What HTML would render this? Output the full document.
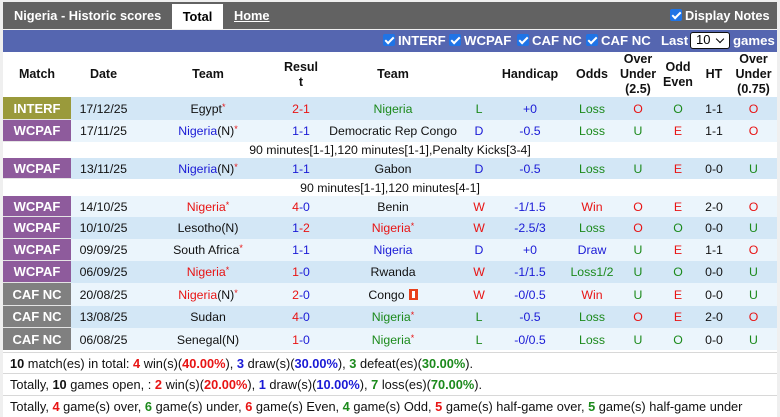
<!DOCTYPE html>
<html><head><meta charset="utf-8">
<style>
*{box-sizing:border-box;margin:0;padding:0}
body{width:780px;height:417px;background:#efefef;font-family:"Liberation Sans",Arial,sans-serif;position:relative;overflow:hidden}
.top{position:absolute;left:3px;top:2px;width:774px;height:27px;background:#626262;color:#fff;font-weight:bold;font-size:12.8px}
.top .t{position:absolute;left:11px;top:6px}
.tab{position:absolute;left:169px;top:2px;width:51px;height:25px;background:#fff;color:#000;text-align:center;line-height:25px}
.home{position:absolute;left:231px;top:6px;text-decoration:underline}
.dn{position:absolute;left:667px;top:6px}
.cb{display:inline-block;width:12px;height:12px;background:#1f74e6;border-radius:2px;position:relative;vertical-align:-1px;margin-right:3px}
.cb:after{content:"";position:absolute;left:4px;top:1px;width:3px;height:7px;border:solid #fff;border-width:0 2px 2px 0;transform:rotate(45deg)}
.blue{position:absolute;left:3px;top:30px;width:774px;height:22px;background:#5566b0;color:#fff;font-weight:bold;font-size:13.2px}
.blue span.i{position:absolute;top:3px}
.sel{position:absolute;left:687px;top:2px;width:40px;height:17px;background:#fff;border:1.5px solid #111;border-radius:3px;color:#000;font-weight:normal;font-size:13px;line-height:14px;padding-left:5px}
.sel:after{content:"";position:absolute;right:6px;top:3px;width:5px;height:5px;border:solid #000;border-width:0 1.5px 1.5px 0;transform:rotate(45deg)}
table{position:absolute;left:3px;top:52px;width:774px;border-collapse:collapse;table-layout:fixed;font-size:12.3px}
td,th{text-align:center;vertical-align:middle;white-space:nowrap;overflow:hidden;padding:0;line-height:14px}
th{background:#fff;font-weight:bold;line-height:15px;height:44px;color:#111;font-size:12.5px}
tr.d td{background:#d3e7f6}
tr.l td{background:#ebf5fc}
tr.n td{background:#fff;color:#111}
td.m{color:#fff;font-weight:bold;font-size:13px;box-shadow:inset 0 -1px 0 #e4e4e4}
.mi{background:#9a9a3b!important}
.mw{background:#8e5b9c!important}
.mc{background:#808080!important}
.R{color:#e81414}.G{color:#1c8a1c}.B{color:#1a1ad6}.K{color:#111}
sup{font-size:9px;line-height:0;vertical-align:3px;color:#e81414}
.ic{display:inline-block;width:9px;height:11px;background:#e8401c;vertical-align:-1px;margin-left:4px;position:relative}
.ic:after{content:"";position:absolute;left:3px;top:2px;width:3px;height:7px;background:#fff}
.sumbg{position:absolute;left:3px;top:350px;width:774px;height:67px;background:#fff}
.sum{position:absolute;left:3px;width:774px;height:22px;background:#fff;border-top:1px solid #d8d8d8;font-size:12.8px;line-height:21px;padding-left:7px;color:#111}
b{font-weight:bold}
</style></head><body>
<div class="top"><span class="t">Nigeria - Historic scores</span><span class="tab">Total</span><span class="home">Home</span><span class="dn"><span class="cb"></span>Display Notes</span></div>
<div class="blue">
<span class="i" style="left:380px"><span class="cb"></span>INTERF</span>
<span class="i" style="left:446px"><span class="cb"></span>WCPAF</span>
<span class="i" style="left:514px"><span class="cb"></span>CAF NC</span>
<span class="i" style="left:583px"><span class="cb"></span>CAF NC</span>
<span class="i" style="left:658px">Last</span>
<span class="sel">10</span>
<span class="i" style="left:730px">games</span>
</div>
<table>
<colgroup><col style="width:68px"><col style="width:65px"><col style="width:144px"><col style="width:42px"><col style="width:142px"><col style="width:30px"><col style="width:72px"><col style="width:52px"><col style="width:40px"><col style="width:40px"><col style="width:32px"><col style="width:47px"></colgroup>
<tr style="height:44px"><th>Match</th><th>Date</th><th>Team</th><th>Resul<br>t</th><th>Team</th><th></th><th>Handicap</th><th>Odds</th><th>Over<br>Under<br>(2.5)</th><th>Odd<br>Even</th><th>HT</th><th>Over<br>Under<br>(0.75)</th></tr>
<tr class="d" style="height:23px"><td class="m mi">INTERF</td><td class="K">17/12/25</td><td class="K">Egypt<sup>*</sup></td><td class="R">2-1</td><td class="G">Nigeria</td><td class="G">L</td><td class="B">+0</td><td class="G">Loss</td><td class="R">O</td><td class="G">O</td><td class="K">1-1</td><td class="R">O</td></tr>
<tr class="l" style="height:22px"><td class="m mw">WCPAF</td><td class="K">17/11/25</td><td><span class="B">Nigeria</span><span class="K">(N)</span><sup>*</sup></td><td class="B">1-1</td><td class="K">Democratic Rep Congo</td><td class="B">D</td><td class="B">-0.5</td><td class="G">Loss</td><td class="G">U</td><td class="R">E</td><td class="K">1-1</td><td class="R">O</td></tr>
<tr class="n" style="height:16px"><td colspan="12">90 minutes[1-1],120 minutes[1-1],Penalty Kicks[3-4]</td></tr>
<tr class="d" style="height:21px"><td class="m mw">WCPAF</td><td class="K">13/11/25</td><td><span class="B">Nigeria</span><span class="K">(N)</span><sup>*</sup></td><td class="B">1-1</td><td class="K">Gabon</td><td class="B">D</td><td class="B">-0.5</td><td class="G">Loss</td><td class="G">U</td><td class="R">E</td><td class="K">0-0</td><td class="G">U</td></tr>
<tr class="n" style="height:17px"><td colspan="12">90 minutes[1-1],120 minutes[4-1]</td></tr>
<tr class="l" style="height:21px"><td class="m mw">WCPAF</td><td class="K">14/10/25</td><td class="R">Nigeria<sup>*</sup></td><td><span class="R">4</span><span class="B">-0</span></td><td class="K">Benin</td><td class="R">W</td><td class="B">-1/1.5</td><td class="R">Win</td><td class="R">O</td><td class="R">E</td><td class="K">2-0</td><td class="R">O</td></tr>
<tr class="d" style="height:22px"><td class="m mw">WCPAF</td><td class="K">10/10/25</td><td class="K">Lesotho(N)</td><td><span class="B">1</span><span class="R">-2</span></td><td class="R">Nigeria<sup>*</sup></td><td class="R">W</td><td class="B">-2.5/3</td><td class="G">Loss</td><td class="R">O</td><td class="G">O</td><td class="K">0-0</td><td class="G">U</td></tr>
<tr class="l" style="height:22px"><td class="m mw">WCPAF</td><td class="K">09/09/25</td><td class="K">South Africa<sup>*</sup></td><td class="B">1-1</td><td class="B">Nigeria</td><td class="B">D</td><td class="B">+0</td><td class="B">Draw</td><td class="G">U</td><td class="R">E</td><td class="K">1-1</td><td class="R">O</td></tr>
<tr class="d" style="height:22px"><td class="m mw">WCPAF</td><td class="K">06/09/25</td><td class="R">Nigeria<sup>*</sup></td><td><span class="R">1</span><span class="B">-0</span></td><td class="K">Rwanda</td><td class="R">W</td><td class="B">-1/1.5</td><td class="G">Loss1/2</td><td class="G">U</td><td class="G">O</td><td class="K">0-0</td><td class="G">U</td></tr>
<tr class="l" style="height:23px"><td class="m mc">CAF NC</td><td class="K">20/08/25</td><td><span class="R">Nigeria</span><span class="K">(N)</span><sup>*</sup></td><td><span class="R">2</span><span class="B">-0</span></td><td class="K">Congo<span class="ic"></span></td><td class="R">W</td><td class="B">-0/0.5</td><td class="R">Win</td><td class="G">U</td><td class="R">E</td><td class="K">0-0</td><td class="G">U</td></tr>
<tr class="d" style="height:22px"><td class="m mc">CAF NC</td><td class="K">13/08/25</td><td class="K">Sudan</td><td><span class="R">4</span><span class="B">-0</span></td><td class="G">Nigeria<sup>*</sup></td><td class="G">L</td><td class="B">-0.5</td><td class="G">Loss</td><td class="R">O</td><td class="R">E</td><td class="K">2-0</td><td class="R">O</td></tr>
<tr class="l" style="height:23px"><td class="m mc">CAF NC</td><td class="K">06/08/25</td><td class="K">Senegal(N)</td><td><span class="R">1</span><span class="B">-0</span></td><td class="G">Nigeria<sup>*</sup></td><td class="G">L</td><td class="B">-0/0.5</td><td class="G">Loss</td><td class="G">U</td><td class="G">O</td><td class="K">0-0</td><td class="G">U</td></tr>
</table>
<div class="sumbg"></div>
<div class="sum" style="top:352px"><b>10</b> match(es) in total: <b class="R">4</b> win(s)(<b class="R">40.00%</b>), <b class="B">3</b> draw(s)(<b class="B">30.00%</b>), <b class="G">3</b> defeat(es)(<b class="G">30.00%</b>).</div>
<div class="sum" style="top:373px">Totally, <b>10</b> games open, : <b class="R">2</b> win(s)(<b class="R">20.00%</b>), <b class="B">1</b> draw(s)(<b class="B">10.00%</b>), <b class="G">7</b> loss(es)(<b class="G">70.00%</b>).</div>
<div class="sum" style="top:395px">Totally, <b class="R">4</b> game(s) over, <b class="G">6</b> game(s) under, <b class="R">6</b> game(s) Even, <b class="G">4</b> game(s) Odd, <b class="R">5</b> game(s) half-game over, <b class="G">5</b> game(s) half-game under</div>
</body></html>
